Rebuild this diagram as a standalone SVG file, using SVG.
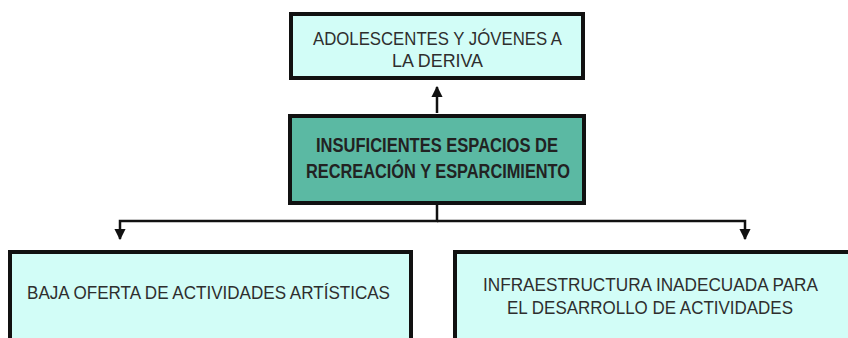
<svg xmlns="http://www.w3.org/2000/svg" width="848" height="338" viewBox="0 0 848 338">
<style>
.box{stroke:#111;stroke-width:4}
.light{fill:#d2fdf7}
.dark{fill:#5bb9a3}
.t{font-family:"Liberation Sans",Arial,sans-serif;font-size:19px;fill:#2e2e2e;text-anchor:start}
.b{font-weight:bold;font-size:20px;fill:#222}
.c{fill:none;stroke:#111;stroke-width:2.5}
</style>
<defs>
<marker id="ah" viewBox="0 0 10 10" refX="9" refY="5" markerWidth="4.5" markerHeight="4.5" orient="auto" markerUnits="strokeWidth">
<path d="M0,0 L10,5 L0,10 Z" fill="#111"/>
</marker>
</defs>
<g id="connectors">
<path class="c" d="M437,113 L437,87" marker-end="url(#ah)"/>
<path class="c" d="M437,205 L437,221 L120,221 L120,239" marker-end="url(#ah)"/>
<path class="c" d="M437,221 L745,221 L745,239" marker-end="url(#ah)"/>
</g>
<g id="n_top">
<rect class="box light" x="291" y="14" width="292" height="64"/>
<text class="t" x="313" y="45" textLength="249" lengthAdjust="spacingAndGlyphs">ADOLESCENTES Y JÓVENES A</text>
<text class="t" x="392" y="67" textLength="91" lengthAdjust="spacingAndGlyphs">LA DERIVA</text>
</g>
<g id="n_center">
<rect class="box dark" x="290" y="116" width="294" height="87"/>
<text class="t b" x="316" y="152" textLength="242" lengthAdjust="spacingAndGlyphs">INSUFICIENTES ESPACIOS DE</text>
<text class="t b" x="306" y="178" textLength="264" lengthAdjust="spacingAndGlyphs">RECREACIÓN Y ESPARCIMIENTO</text>
</g>
<g id="n_left">
<rect class="box light" x="10" y="252" width="401" height="100"/>
<text class="t" x="27" y="299" textLength="363" lengthAdjust="spacingAndGlyphs">BAJA OFERTA DE ACTIVIDADES ARTÍSTICAS</text>
</g>
<g id="n_right">
<rect class="box light" x="455" y="252" width="400" height="100"/>
<text class="t" x="483" y="291" textLength="335" lengthAdjust="spacingAndGlyphs">INFRAESTRUCTURA INADECUADA PARA</text>
<text class="t" x="507" y="314" textLength="286" lengthAdjust="spacingAndGlyphs">EL DESARROLLO DE ACTIVIDADES</text>
</g>
</svg>
